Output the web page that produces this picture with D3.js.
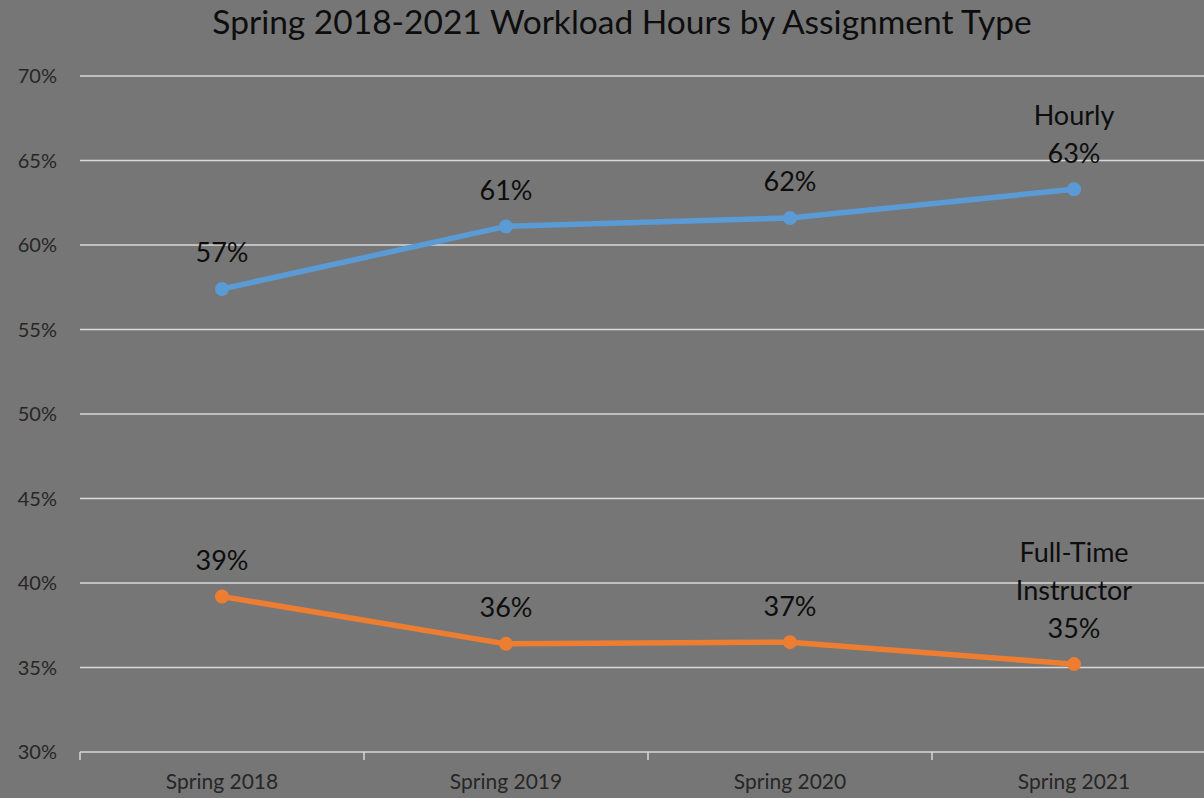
<!DOCTYPE html>
<html><head><meta charset="utf-8">
<script src="https://cdn.jsdelivr.net/npm/d3@7/dist/d3.min.js"></script>
<style>html,body{margin:0;padding:0;background:#767676;overflow:hidden}</style>
</head><body><svg id="c" width="1204" height="798"></svg>
<script>
const categories = ["Spring 2018","Spring 2019","Spring 2020","Spring 2021"];
const hourly = [57.4, 61.1, 61.6, 63.3];
const fullTime = [39.2, 36.4, 36.5, 35.2];
const hourlyLabels = ["57%","61%","62%","63%"];
const fullTimeLabels = ["39%","36%","37%","35%"];
const yTicks = [30,35,40,45,50,55,60,65,70];
const title = "Spring 2018-2021 Workload Hours by Assignment Type";

const svg = d3.select("#c");
const font = "Lato, 'Open Sans', sans-serif";
svg.append("rect").attr("width",1204).attr("height",798).attr("fill","#767676");

const x = d3.scaleBand().domain(categories).range([80,1216]).paddingInner(0).paddingOuter(0);
const y = d3.scaleLinear().domain([30,70]).range([752,76]);

// gridlines
svg.append("g").selectAll("line").data(yTicks.filter(t=>t>30)).join("line")
  .attr("x1",80).attr("x2",1216).attr("y1",d=>y(d)).attr("y2",d=>y(d))
  .attr("stroke","#d9d9d9").attr("stroke-width",1.5);

// y labels
svg.append("g").selectAll("text").data(yTicks).join("text")
  .attr("x",57).attr("y",d=>y(d)).attr("dy","0.35em").attr("text-anchor","end")
  .attr("font-family",font).attr("font-size",20).attr("fill","#262626")
  .text(d=>d+"%");

// x axis
const xAxis = d3.axisBottom(x).tickSize(0).tickFormat(d=>d);
const gx = svg.append("g").attr("transform","translate(0,752)").call(xAxis);
gx.select(".domain").attr("stroke","#d9d9d9").attr("stroke-width",1.5).attr("d","M80,0H1216");
gx.selectAll(".tick text").attr("font-family",font).attr("font-size",21).attr("fill","#262626").attr("dy","0.35em").attr("y",30);
const bounds = categories.map(c=>x(c)).concat([x(categories[3])+x.bandwidth()]);
gx.append("g").selectAll("line").data(bounds).join("line")
  .attr("x1",d=>d).attr("x2",d=>d).attr("y1",0).attr("y2",8)
  .attr("stroke","#d9d9d9").attr("stroke-width",1.5);

const cx = c => x(c) + x.bandwidth()/2;
const line = d3.line().x((d,i)=>cx(categories[i])).y(d=>y(d));

function series(vals, color){
  svg.append("path").datum(vals).attr("d",line).attr("fill","none")
    .attr("stroke",color).attr("stroke-width",5.5).attr("stroke-linejoin","round");
  svg.append("g").selectAll("circle").data(vals).join("circle")
    .attr("cx",(d,i)=>cx(categories[i])).attr("cy",d=>y(d)).attr("r",7).attr("fill",color);
}
series(hourly,"#5b9bd5");
series(fullTime,"#ed7d31");

function labels(vals, labs, name){
  const g = svg.append("g");
  vals.forEach((v,i)=>{
    const lines = (i===3 ? name.concat([labs[i]]) : [labs[i]]);
    const n = lines.length;
    lines.forEach((t,j)=>{
      g.append("text").attr("x",cx(categories[i])).attr("y",y(v)-36-(n-1-j)*38)
        .attr("dy","0.35em").attr("text-anchor","middle")
        .attr("font-family",font).attr("font-size",27).attr("fill","#0d0d0d").text(t);
    });
  });
}
labels(hourly,hourlyLabels,["Hourly"]);
labels(fullTime,fullTimeLabels,["Full-Time","Instructor"]);

svg.append("text").attr("x",622).attr("y",22).attr("dy","0.35em").attr("text-anchor","middle")
  .attr("font-family",font).attr("font-size",33.5).attr("fill","#0d0d0d").text(title);
</script></body></html>
